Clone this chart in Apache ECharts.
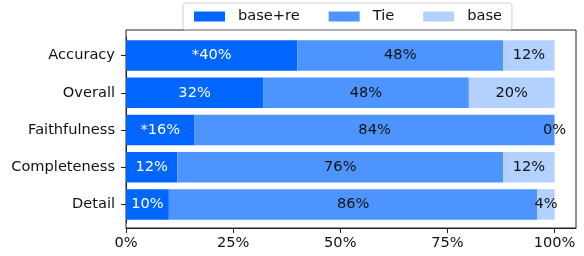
<!DOCTYPE html>
<html lang="en">
<head>
    <meta charset="UTF-8">
    <title>stacked bars</title>
    <script src="https://cdn.jsdelivr.net/npm/echarts@6/dist/echarts.min.js"></script>
    <style>
        * { margin: 0; padding: 0; }
        html, body { width: 584px; height: 256px; background: #fff; }
    </style>
</head>
<body>
    <div id="main" style="width: 584px;height:256px;"></div>
<script>
    var categories = ['Accuracy', 'Overall', 'Faithfulness', 'Completeness', 'Detail'];
    var baseReValues = [40, 32, 16, 12, 10];
    var tieValues = [48, 48, 84, 76, 86];
    var baseValues = [12, 20, 0, 12, 4];
    // the asterisk marks from the picture
    var baseReLabels = ['*40%', '32%', '*16%', '12%', '10%'];
    var xTicks = [0, 25, 50, 75, 100];

    var FONT = 'DejaVu Sans';
    var FS = 14.6;
    var myChart = echarts.init(document.getElementById('main'));

    function pct(p) { return p.value + '%'; }

    myChart.setOption({
        animation: false,
        textStyle: { fontFamily: FONT },
        legend: {
            left: 183,
            top: 3,
            padding: [6, 10, 6, 11],
            itemWidth: 31,
            itemHeight: 10,
            itemGap: 29,
            borderColor: '#d0d0d0',
            borderWidth: 1,
            borderRadius: 3,
            icon: 'rect',
            textStyle: { fontSize: FS, color: '#111', padding: [0, 0, 0, 8] },
            data: ['base+re', 'Tie', 'base']
        },
        grid: [
            // outer frame
            { left: 126, right: 8, top: 30, bottom: 28, show: true, borderColor: '#222', borderWidth: 1 },
            // data area
            { left: 126, right: 8, top: 37, bottom: 33 }
        ],
        xAxis: [{
            gridIndex: 1,
            type: 'value',
            min: 0,
            max: 105,
            offset: 5,
            splitLine: { show: false },
            axisLine: { show: true, lineStyle: { color: '#222' } },
            axisTick: { show: true, length: 5, lineStyle: { color: '#222' }, customValues: xTicks },
            axisLabel: {
                fontSize: FS, color: '#111', margin: 8,
                customValues: xTicks,
                formatter: function (v) { return v + '%'; }
            }
        }],
        yAxis: [{
            gridIndex: 1,
            type: 'category',
            inverse: true,
            data: categories,
            axisLine: { show: true, lineStyle: { color: '#222' } },
            axisTick: { show: true, alignWithLabel: true, length: 5, lineStyle: { color: '#222' } },
            axisLabel: { fontSize: FS, color: '#111', margin: 11 }
        }],
        series: [
            {
                name: 'base+re', type: 'bar', stack: 'all', barWidth: '82%',
                xAxisIndex: 0, yAxisIndex: 0,
                itemStyle: { color: '#0066ff' },
                label: {
                    show: true, position: 'inside', color: '#fff', fontSize: FS,
                    formatter: function (p) { return baseReLabels[p.dataIndex]; }
                },
                data: baseReValues
            },
            {
                name: 'Tie', type: 'bar', stack: 'all', barWidth: '82%',
                xAxisIndex: 0, yAxisIndex: 0,
                itemStyle: { color: '#4d94ff' },
                label: { show: true, position: 'inside', color: '#111', fontSize: FS, formatter: pct },
                data: tieValues
            },
            {
                name: 'base', type: 'bar', stack: 'all', barWidth: '82%',
                xAxisIndex: 0, yAxisIndex: 0,
                itemStyle: { color: '#b3d1ff' },
                label: { show: true, position: 'inside', color: '#111', fontSize: FS, formatter: pct },
                data: baseValues
            }
        ]
    });
</script>
</body>
</html>
